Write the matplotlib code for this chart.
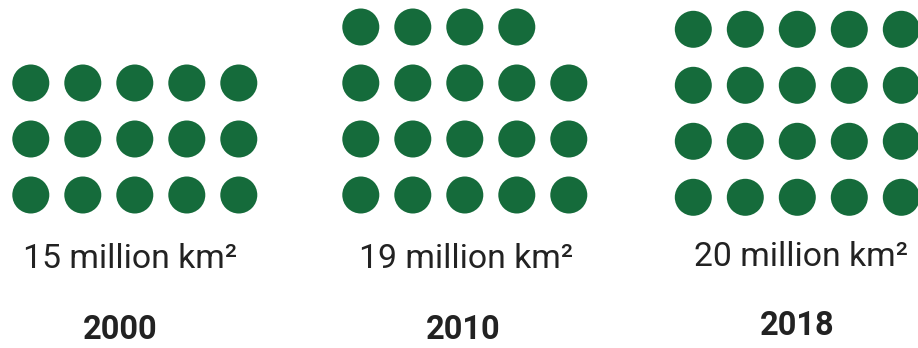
import matplotlib.pyplot as plt
from matplotlib.patches import Circle

# площадь (млн км²) по годам, одна точка = 1 млн км²
years = ["2000", "2010", "2018"]
areas = [15, 19, 20]
labels = ["15 million km²", "19 million km²", "20 million km²"]

per_row = 5
dot_r = 18.5
step_x, step_y = 52, 56
green = "#156b3b"
ink = "#222222"

# нижний левый центр каждой группы, подписи (в пикселях)
origins = [(30.8, 195), (360.8, 195), (693.3, 197.3)]
label_pos = [(130, 259), (466, 259), (801, 257)]
year_pos = [(120, 330), (463, 330), (797, 326)]

fig = plt.figure(figsize=(9.18, 3.48), dpi=100)
ax = fig.add_axes([0, 0, 1, 1])
ax.set_xlim(0, 918)
ax.set_ylim(348, 0)
ax.axis("off")

for n, (x0, y0) in zip(areas, origins):
    for i in range(n):
        row = i // per_row
        col = i % per_row
        ax.add_patch(Circle((x0 + col * step_x, y0 - row * step_y), dot_r,
                            color=green, lw=0))

for text, (x, y) in zip(labels, label_pos):
    ax.text(x, y, text, ha="center", va="center", fontsize=24.3,
            family="Roboto", color=ink)

for text, (x, y) in zip(years, year_pos):
    ax.text(x, y, text, ha="center", va="center", fontsize=23.5,
            family="Roboto", fontweight="bold", color=ink)

fig.savefig("out.png", dpi=100, facecolor="white")
